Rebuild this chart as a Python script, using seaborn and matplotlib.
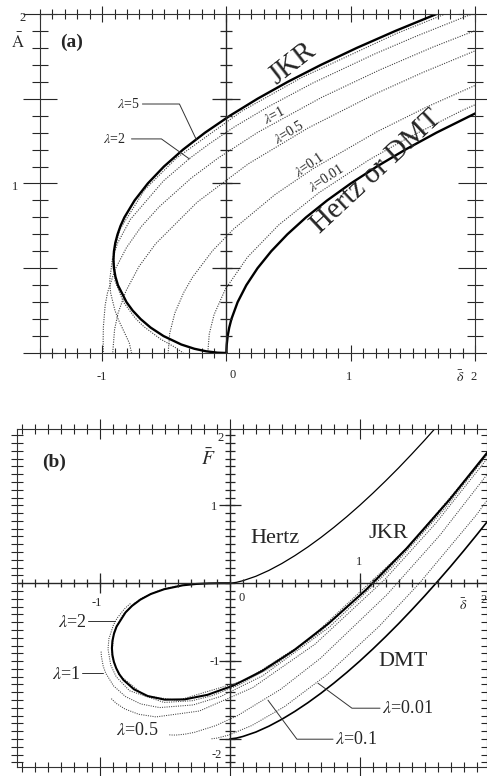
import numpy as np
import matplotlib
matplotlib.use("Agg")
import matplotlib.pyplot as plt
import seaborn as sns
from matplotlib.ticker import MultipleLocator

sns.set_style("ticks")
plt.rcParams["font.family"] = ["Liberation Serif", "DejaVu Serif"]
plt.rcParams["mathtext.fontset"] = "stix"

# ---------------- data ----------------
# JKR: contact radius A, penetration delta, load F
jkr_A = [0.0, 0.002, 0.01, 0.025, 0.05, 0.1, 0.15, 0.2, 0.25, 0.3, 0.4, 0.45, 0.5, 0.55,
         0.6, 0.65, 0.7, 0.75, 0.8, 0.9, 1.0, 1.1, 1.2, 1.3, 1.4, 1.5, 1.6, 1.7, 1.8,
         1.9, 2.0, 2.1]
jkr_d = [0.0, -0.073, -0.163, -0.258, -0.363, -0.506, -0.610, -0.690, -0.754, -0.804,
         -0.873, -0.893, -0.905, -0.909, -0.905, -0.894, -0.876, -0.852, -0.821, -0.739,
         -0.633, -0.503, -0.349, -0.172, 0.028, 0.250, 0.494, 0.761, 1.049, 1.359,
         1.691, 2.044]
jkr_F = [0.0, -0.0002, -0.0025, -0.0097, -0.027, -0.077, -0.139, -0.211, -0.291, -0.375,
         -0.556, -0.648, -0.741, -0.833, -0.922, -1.009, -1.091, -1.169, -1.241, -1.362,
         -1.449, -1.495, -1.492, -1.433, -1.313, -1.125, -0.861, -0.515, -0.083, 0.444,
         1.072, 1.807]

# Hertz (panel a) and Hertz / DMT (panel b)
hertz_A = [0.0, 0.02, 0.05, 0.1, 0.15, 0.2, 0.3, 0.4, 0.5, 0.6, 0.7, 0.8, 0.9, 1.0,
           1.1, 1.2, 1.3, 1.42]
hertz_d = [0.0, 0.0004, 0.0025, 0.01, 0.0225, 0.04, 0.09, 0.16, 0.25, 0.36, 0.49, 0.64,
           0.81, 1.0, 1.21, 1.44, 1.69, 2.02]
hz_d = [0.0, 0.05, 0.1, 0.2, 0.3, 0.4, 0.5, 0.6, 0.7, 0.8, 0.9, 1.0, 1.1, 1.2, 1.3,
        1.4, 1.5, 1.6]
hz_F = [0.0, 0.011, 0.032, 0.089, 0.164, 0.253, 0.354, 0.465, 0.586, 0.716, 0.854, 1.0,
        1.154, 1.315, 1.482, 1.657, 1.837, 2.024]
dmt_d = [0.0, 0.05, 0.1, 0.2, 0.3, 0.4, 0.5, 0.6, 0.7, 0.8, 0.9, 1.0, 1.1, 1.2, 1.3,
         1.4, 1.5, 1.6, 1.7, 1.8, 1.9, 2.0]
dmt_F = [-2.0, -1.989, -1.968, -1.911, -1.836, -1.747, -1.646, -1.535, -1.414, -1.284,
         -1.146, -1.0, -0.846, -0.685, -0.518, -0.343, -0.163, 0.024, 0.216, 0.415,
         0.619, 0.828]

# Maugis-Dugdale curves for each lambda
l5_d = [2.0, 1.372, 0.605, 0.126, -0.402, -0.657, -0.857, -0.909, -0.896, -0.829,
        -0.733, -0.665, -0.530, -0.419, -0.347]
l5_A = [2.07, 1.886, 1.625, 1.428, 1.150, 0.964, 0.730, 0.587, 0.424, 0.301, 0.205,
        0.156, 0.082, 0.036, 0.0]
l5_F = [1.70, 0.463, -0.729, -1.242, -1.505, -1.444, -1.173, -0.939, -0.640, -0.416,
        -0.253, -0.179, -0.084, -0.039, -0.021]

l2_d = [2.0, 1.927, 1.527, 1.198, 0.693, 0.332, 0.066, -0.136, -0.291, -0.507, -0.773,
        -0.876, -0.918, -0.939, -0.932, -0.897, -0.869, -0.813, -0.782, -0.763]
l2_A = [2.005, 1.986, 1.869, 1.766, 1.592, 1.451, 1.335, 1.235, 1.151, 1.015, 0.788,
        0.648, 0.552, 0.430, 0.355, 0.251, 0.196, 0.109, 0.060, 0.0]
l2_F = [1.70, 1.538, 0.739, 0.143, -0.628, -1.064, -1.309, -1.443, -1.509, -1.531,
        -1.381, -1.201, -1.052, -0.845, -0.713, -0.535, -0.449, -0.331, -0.283, -0.257]

l1_d = [2.221, 1.662, 1.236, 0.766, 0.253, -0.069, -0.283, -0.542, -0.686, -0.804,
        -0.896, -0.957, -0.976, -0.990, -0.992, -0.990]
l1_A = [1.965, 1.805, 1.671, 1.508, 1.302, 1.149, 1.032, 0.862, 0.745, 0.622, 0.493,
        0.355, 0.280, 0.155, 0.075, 0.0]
l1_F = [2.162, 0.972, 0.180, -0.563, -1.188, -1.453, -1.563, -1.597, -1.551, -1.456,
        -1.319, -1.154, -1.065, -0.940, -0.887, -0.867]

l05_d = [2.110, 1.583, 1.196, 0.656, 0.176, -0.235, -0.569, -0.703, -0.809, -0.872,
         -0.900, -0.915]
l05_A = [1.816, 1.656, 1.528, 1.327, 1.116, 0.890, 0.645, 0.511, 0.365, 0.235, 0.139, 0.0]
l05_F = [1.868, 0.765, 0.053, -0.782, -1.340, -1.641, -1.717, -1.683, -1.615, -1.547,
         -1.505, -1.480]

l01_d = [2.198, 1.616, 1.210, 0.696, 0.390, 0.057, -0.112, -0.273, -0.345, -0.415,
         -0.456, -0.469]
l01_A = [1.643, 1.453, 1.305, 1.087, 0.934, 0.731, 0.603, 0.447, 0.355, 0.236, 0.117, 0.0]
l01_F = [1.862, 0.614, -0.146, -0.966, -1.363, -1.702, -1.830, -1.915, -1.938, -1.950,
         -1.949, -1.946]

l001_d = [2.548, 1.897, 1.457, 1.146, 0.745, 0.420, 0.169, -0.009, -0.0995, -0.138, -0.150]
l001_A = [1.643, 1.431, 1.268, 1.139, 0.946, 0.755, 0.565, 0.376, 0.226, 0.113, 0.0]
l001_F = [2.361, 0.874, -0.005, -0.559, -1.178, -1.585, -1.827, -1.950, -1.989, -1.997,
          -1.998]

md_d = [l5_d, l2_d, l1_d, l05_d, l01_d, l001_d]
md_A = [l5_A, l2_A, l1_A, l05_A, l01_A, l001_A]
md_F = [l5_F, l2_F, l1_F, l05_F, l01_F, l001_F]

DOT = (0, (1.0, 1.2))


def curve(ax, x, y, lw, dotted=False, color="k"):
    sns.lineplot(x=x, y=y, sort=False, estimator=None, ax=ax, color=color, lw=lw,
                 linestyle=DOT if dotted else "-", legend=False)


def frame(ax, xmaj, ymaj, xlen, ylen):
    ax.xaxis.set_major_locator(MultipleLocator(xmaj))
    ax.xaxis.set_minor_locator(MultipleLocator(0.1))
    ax.yaxis.set_major_locator(MultipleLocator(ymaj))
    ax.yaxis.set_minor_locator(MultipleLocator(0.1))
    ax.tick_params(which="both", direction="inout", top=True, right=True,
                   labelbottom=False, labelleft=False, width=0.8, color="0.15")
    ax.tick_params(axis="x", which="major", length=xlen[0])
    ax.tick_params(axis="x", which="minor", length=xlen[1])
    ax.tick_params(axis="y", which="major", length=ylen[0])
    ax.tick_params(axis="y", which="minor", length=ylen[1])
    for s in ax.spines.values():
        s.set_linewidth(0.8)
        s.set_color("0.2")
    ax.set_xlabel("")
    ax.set_ylabel("")


fig = plt.figure(figsize=(4.87, 7.76), dpi=100)

# ---------------- panel (a) ----------------
ax = fig.add_axes([40 / 487, 1 - 353 / 776, 435 / 487, 339 / 776])
for d, a in zip(md_d, md_A):
    curve(ax, d, a, 0.8, dotted=True, color="0.25")
curve(ax, jkr_d, jkr_A, 1.7)
curve(ax, hertz_d, hertz_A, 1.7)
ax.set_xlim(-1.5, 2.0)
ax.set_ylim(0, 2.0)
frame(ax, 1, 0.5, (12, 7), (24, 11))

# inner axis at delta = 0
ax.axvline(0, color="0.15", lw=1.0)
ya = np.arange(0.1, 2.0, 0.1)
ax.plot(np.zeros_like(ya), ya, ls="none", marker="_", ms=9, mew=0.9, color="0.15")
ax.plot([0, 0, 0], [0.5, 1.0, 1.5], ls="none", marker="_", ms=20, mew=0.9, color="0.15")

ax.text(-1.25, 1.835, "(a)", fontsize=14, fontweight="bold", ha="center", va="center")
ax.text(0.53, 1.71, "JKR", fontsize=21, rotation=38, ha="center", va="center",
        rotation_mode="anchor")
ax.text(1.21, 1.07, "Hertz or DMT", fontsize=21, rotation=43, ha="center", va="center",
        rotation_mode="anchor")

# lambda labels (a)
ax.text(-0.70, 1.469, r"$\lambda$=5", fontsize=10, ha="right", va="center")
ax.plot([-0.676, -0.378, -0.241], [1.469, 1.469, 1.257], color="0.2", lw=0.7)
ax.text(-0.81, 1.263, r"$\lambda$=2", fontsize=10, ha="right", va="center")
ax.plot([-0.764, -0.523, -0.298], [1.263, 1.263, 1.145], color="0.2", lw=0.7)
for xy, txt, rot in [((0.386, 1.40), "1", 28), ((0.507, 1.30), "0.5", 31),
                     ((0.668, 1.11), "0.1", 34), ((0.805, 1.03), "0.01", 33)]:
    ax.text(xy[0], xy[1], r"$\lambda$=" + txt, fontsize=10, rotation=rot, ha="center",
            va="center", rotation_mode="anchor")

# tick labels (a)
ax.text(-1.64, 1.976, "2", fontsize=9, ha="center", va="center")
ax.text(-1.68, 1.83, r"$\bar{\rm A}$", fontsize=12, ha="center", va="center")
ax.text(-1.70, 0.98, "1", fontsize=9, ha="center", va="center")
ax.text(-1.0, -0.14, "-1", fontsize=9, ha="center", va="center")
ax.text(0.05, -0.13, "0", fontsize=9, ha="center", va="center")
ax.text(0.99, -0.14, "1", fontsize=9, ha="center", va="center")
ax.text(1.88, -0.14, r"$\bar{\delta}$", fontsize=10, ha="center", va="center")
ax.text(1.99, -0.14, "2", fontsize=9, ha="center", va="center")

# ---------------- panel (b) ----------------
bx = fig.add_axes([17 / 487, 1 - 767 / 776, 470 / 487, 338 / 776])
for d, f in zip(md_d, md_F):
    curve(bx, d, f, 0.75, dotted=True, color="0.25")
curve(bx, jkr_d, jkr_F, 1.5)
curve(bx, hz_d, hz_F, 0.9)
curve(bx, dmt_d, dmt_F, 1.2)
bx.set_xlim(-1.64, 1.98)
bx.set_ylim(-2.36, 1.98)
frame(bx, 1, 1, (15, 7), (8, 8))

# inner axes
bx.axhline(0, color="0.15", lw=1.0)
bx.axvline(0, color="0.15", lw=1.0)
xb = np.arange(-1.6, 2.0, 0.1)
bx.plot(xb, np.zeros_like(xb), ls="none", marker="|", ms=6, mew=0.9, color="0.15")
bx.plot([-1, 1], [0, 0], ls="none", marker="|", ms=15, mew=0.9, color="0.15")
yb = np.arange(-2.3, 2.0, 0.1)
bx.plot(np.zeros_like(yb), yb, ls="none", marker="_", ms=7, mew=0.9, color="0.15")
bx.plot([0, 0, 0, 0], [-2, -1, 1, 2], ls="none", marker="_", ms=16, mew=0.9, color="0.15")

bx.text(-1.356, 1.55, "(b)", fontsize=14, fontweight="bold", ha="center", va="center")
bx.text(0.347, 0.58, "Hertz", fontsize=16, ha="center", va="center")
bx.text(1.217, 0.64, "JKR", fontsize=16, ha="center", va="center")
bx.text(1.333, -1.01, "DMT", fontsize=16, ha="center", va="center")

bx.text(-1.10, -0.50, r"$\lambda$=2", fontsize=13, ha="right", va="center")
bx.plot([-1.094, -0.886], [-0.488, -0.488], color="0.2", lw=0.7)
bx.text(-1.15, -1.17, r"$\lambda$=1", fontsize=13, ha="right", va="center")
bx.plot([-1.14, -0.978], [-1.155, -1.155], color="0.2", lw=0.7)
bx.text(-0.716, -1.887, r"$\lambda$=0.5", fontsize=13, ha="center", va="center")
bx.text(1.17, -1.605, r"$\lambda$=0.01", fontsize=13, ha="left", va="center")
bx.plot([0.678, 0.940, 1.156], [-1.284, -1.605, -1.605], color="0.2", lw=0.7)
bx.text(0.81, -2.003, r"$\lambda$=0.1", fontsize=13, ha="left", va="center")
bx.plot([0.293, 0.516, 0.794], [-1.502, -2.003, -2.003], color="0.2", lw=0.7)

# tick labels (b)
bx.text(-0.17, 1.60, r"$\bar{F}$", fontsize=14, ha="center", va="center")
bx.text(-0.075, 1.86, "2", fontsize=9, ha="center", va="center")
bx.text(-0.12, 0.98, "1", fontsize=9, ha="center", va="center")
bx.text(-0.12, -1.01, "-1", fontsize=9, ha="center", va="center")
bx.text(-0.10, -2.21, "-2", fontsize=9, ha="center", va="center")
bx.text(-1.025, -0.26, "-1", fontsize=9, ha="center", va="center")
bx.text(0.09, -0.19, "0", fontsize=9, ha="center", va="center")
bx.text(0.994, 0.27, "1", fontsize=9, ha="center", va="center")
bx.text(1.795, -0.28, r"$\bar{\delta}$", fontsize=10, ha="center", va="center")
bx.text(1.955, -0.22, "2", fontsize=9, ha="center", va="center")

fig.savefig("out.png", dpi=100)
